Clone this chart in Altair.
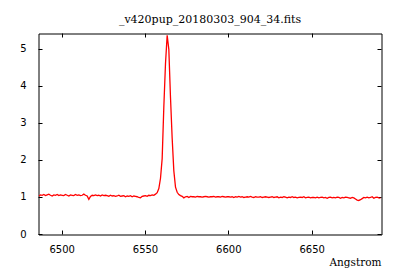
import altair as alt
import pandas as pd

# Spectrum: flux sampled every 1 Angstrom starting at 6486 A
start_wavelength = 6486
flux = [
    # 6486-6500
    1.04, 1.07, 1.06, 1.08, 1.05, 1.07, 1.09, 1.06, 1.04, 1.07, 1.06, 1.08, 1.05, 1.07, 1.06,
    # 6501-6515
    1.05, 1.08, 1.06, 1.04, 1.07, 1.06, 1.05, 1.08, 1.06, 1.07, 1.05, 1.06, 1.09, 1.06, 1.04,
    # 6516-6517
    0.95, 1.03,
    # 6518-6530
    1.06, 1.05, 1.07, 1.05, 1.06, 1.04, 1.07, 1.05, 1.06, 1.05, 1.03, 1.06, 1.04,
    # 6531-6545
    1.05, 1.03, 1.04, 1.06, 1.03, 1.04, 1.05, 1.02, 1.04, 1.03, 1.05, 1.02, 1.04, 1.03, 1.02,
    # 6546-6554
    1.00, 0.99, 1.03, 1.04, 1.05, 1.03, 1.06, 1.05, 1.07,
    # 6555-6575 (H-alpha emission)
    1.06, 1.09, 1.13, 1.24, 1.52, 2.05, 3.45, 4.62, 5.38, 5.00, 3.70, 2.60, 1.72, 1.28,
    1.14, 1.08, 1.05, 1.03, 0.99, 1.02, 1.03,
    # 6576-6600
    1.00, 1.03, 1.02, 1.02, 1.01, 1.03, 1.02, 1.02, 1.01, 1.02, 1.03, 1.02, 1.01, 1.02, 1.02,
    1.03, 1.01, 1.02, 1.02, 1.01, 1.03, 1.02, 1.01, 1.02, 1.02,
    # 6601-6625
    1.01, 1.02, 1.00, 1.02, 1.01, 1.03, 1.01, 1.02, 1.00, 1.01, 1.02, 1.01, 1.03, 1.01, 1.00,
    1.02, 1.01, 1.01, 1.02, 1.00, 1.01, 1.02, 1.01, 1.00, 1.01,
    # 6626-6650
    1.02, 1.00, 1.01, 1.02, 0.99, 1.01, 1.00, 1.02, 1.01, 0.99, 1.01, 1.00, 1.02, 1.00, 1.01,
    0.99, 1.00, 1.01, 1.00, 1.02, 0.99, 1.00, 1.01, 0.99, 1.00,
    # 6651-6675
    1.00, 0.99, 1.01, 0.99, 1.00, 1.01, 0.99, 1.00, 0.98, 1.00, 1.01, 0.99, 1.00, 0.99, 1.01,
    1.00, 0.98, 1.00, 0.99, 1.01, 1.00, 0.99, 0.98, 1.00, 0.99,
    # 6676-6691
    0.96, 0.93, 0.92, 0.94, 0.97, 1.00, 0.99, 1.01, 0.99, 1.00, 1.02, 0.98, 1.00, 1.01, 0.99, 0.98,
]
wavelength = [start_wavelength + i for i in range(len(flux))]

x_ticks = [6500, 6550, 6600, 6650]
y_ticks = [0, 1, 2, 3, 4, 5]
x_domain = [6485.8, 6691.6]
y_domain = [0, 5.43]

title_text = "_v420pup_20180303_904_34.fits"
x_title = "Angstrom"

df = pd.DataFrame({"wavelength": wavelength, "flux": flux})

W, H = 343, 201
TICK = 4

chart = (
    alt.Chart(df)
    .mark_line(color="#ff0000", strokeWidth=1.3, clip=True)
    .encode(
        x=alt.X(
            "wavelength:Q",
            scale=alt.Scale(domain=x_domain, nice=False, zero=False),
            axis=alt.Axis(
                values=x_ticks,
                format="d",
                title=x_title,
                grid=True,
                gridColor="black",
                gridOpacity=1,
                gridWidth=1,
                gridDash=[TICK, H - 2 * TICK, TICK, 2000],
                ticks=False,
                domain=False,
                labelPadding=10,
                labelFont="DejaVu Sans",
                labelFontSize=10,
                labelColor="black",
                titleFont="DejaVu Serif",
                titleFontSize=10.5,
                titleFontWeight="normal",
                titleColor="black",
                titleX=W,
                titleY=31.5,
                titleAlign="right",
                titleBaseline="alphabetic",
                translate=0,
            ),
        ),
        y=alt.Y(
            "flux:Q",
            scale=alt.Scale(domain=y_domain, nice=False, zero=False),
            axis=alt.Axis(
                values=y_ticks,
                format="d",
                title=None,
                grid=True,
                gridColor="black",
                gridOpacity=1,
                gridWidth=1,
                gridDash=[TICK, W - 2 * TICK, TICK, 2000],
                ticks=False,
                domain=False,
                labelPadding=12,
                labelFont="DejaVu Sans",
                labelFontSize=10,
                labelColor="black",
                translate=0,
            ),
        ),
    )
    .properties(
        width=W,
        height=H,
        background="white",
        title=alt.TitleParams(
            text=title_text,
            font="DejaVu Serif",
            fontSize=11,
            fontWeight="normal",
            color="black",
            anchor="middle",
            baseline="alphabetic",
            offset=0,
        ),
        autosize=alt.AutoSizeParams(type="none"),
        padding={"left": 38.5, "top": 33.5, "right": 18.5, "bottom": 45.5},
    )
    .configure_view(stroke="black", strokeWidth=1)
)

chart.save("out.html", embed_options={"renderer": "svg", "actions": False})
